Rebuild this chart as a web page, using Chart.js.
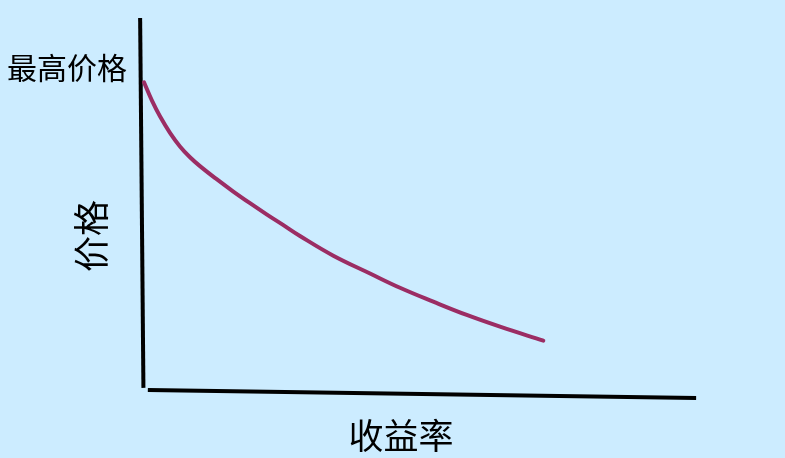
<!DOCTYPE html>
<html>
<head>
<meta charset="utf-8">
<script src="https://cdn.jsdelivr.net/npm/chart.js@4/dist/chart.umd.min.js"></script>
<style>
html,body{margin:0;padding:0;background:#CCECFF;}
#wrap{width:785px;height:458px;position:relative;}
</style>
</head>
<body>
<div id="wrap"><canvas id="c"></canvas></div>
<script>
// Price vs. yield curve (abstract units, origin = axes corner)
const yieldValues = [0, 1.45, 2.9, 4.72, 6.53, 8.35, 10.16, 13.07, 16.15, 19.24, 22.32, 25.23, 28.31, 34.36, 41.02, 46.46, 52.5, 58.57, 64.61, 72.47];
const priceValues = [82.67, 77.71, 73.5, 69.06, 65.39, 62.47, 60.08, 56.68, 53.29, 50.08, 47.01, 44.23, 41.24, 35.93, 31.13, 27.28, 23.53, 19.95, 16.79, 13.02];

// hand-drawn axis lines (slightly tilted), in the same units
const yAxisLineX = [-0.7, -0.1];
const yAxisLineY = [100, 0.3];
const xAxisLineX = [0.7, 100.2];
const xAxisLineY = [-0.3, -2.4];

const xLabel = '收益率';
const yLabel = '价格';
const maxPriceLabel = '最高价格';

const curveData = yieldValues.map((v, i) => ({x: v, y: priceValues[i]}));
const yAxisData = yAxisLineX.map((v, i) => ({x: v, y: yAxisLineY[i]}));
const xAxisData = xAxisLineX.map((v, i) => ({x: v, y: xAxisLineY[i]}));

const labelPlugin = {
  id: 'labels',
  beforeDraw(chart) {
    const ctx = chart.ctx;
    ctx.save();
    ctx.fillStyle = '#CCECFF';
    ctx.fillRect(0, 0, chart.width, chart.height);
    ctx.restore();
  },
  afterDraw(chart) {
    const ctx = chart.ctx;
    ctx.save();
    ctx.fillStyle = '#000';
    ctx.textAlign = 'center';
    ctx.textBaseline = 'middle';
    ctx.font = '30px "Noto Sans CJK SC"';
    ctx.fillText(maxPriceLabel, 67, 68);
    ctx.font = '35px "Noto Sans CJK SC"';
    ctx.fillText(xLabel, 401, 436);
    ctx.translate(91, 236);
    ctx.rotate(-Math.PI / 2);
    ctx.font = '36px "Noto Sans CJK SC"';
    ctx.fillText(yLabel, 0, 0);
    ctx.restore();
  }
};

new Chart(document.getElementById('c'), {
  type: 'line',
  data: {
    datasets: [
      {data: curveData, borderColor: '#9B2D64', borderWidth: 4, pointRadius: 0,
       tension: 0.4, borderCapStyle: 'round', fill: false},
      {data: yAxisData, borderColor: '#000', borderWidth: 4, pointRadius: 0, tension: 0},
      {data: xAxisData, borderColor: '#000', borderWidth: 4, pointRadius: 0, tension: 0}
    ]
  },
  options: {
    responsive: true,
    maintainAspectRatio: false,
    animation: false,
    layout: {padding: 0},
    plugins: {legend: {display: false}, tooltip: {enabled: false}},
    scales: {
      x: {type: 'linear', display: false, min: -26.13, max: 116.33},
      y: {type: 'linear', display: false, min: -18.6, max: 104.85}
    }
  },
  plugins: [labelPlugin]
});
</script>
</body>
</html>
